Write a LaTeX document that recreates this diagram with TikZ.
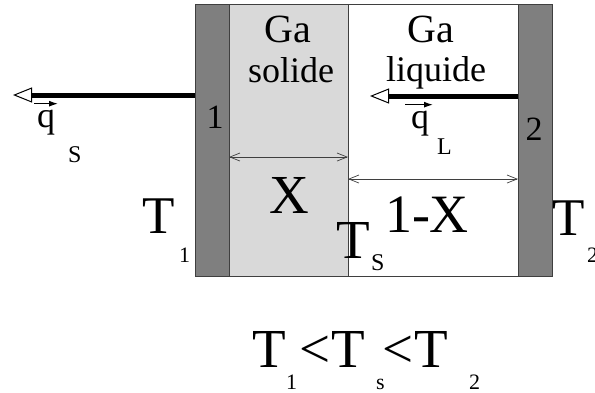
\documentclass[tikz,border=0pt]{standalone}
\usepackage{fontspec}
\setmainfont{Liberation Serif}
\usetikzlibrary{arrows.meta}
\newcommand{\fsz}[1]{\fontsize{#1}{#1}\selectfont}
\definecolor{wallgray}{HTML}{7F7F7F}
\definecolor{solidgray}{HTML}{D9D9D9}
\definecolor{edgegray}{HTML}{3F3F3F}
\begin{document}
\begin{tikzpicture}[x=1pt,y=-1pt,
  lbl/.style={inner sep=0pt, outer sep=0pt},
  region/.style={draw=edgegray, line width=0.8pt, inner sep=0pt, outer sep=0pt, anchor=north west, minimum height=272pt},
  flux/.style={line width=5pt, -{Triangle[open,length=19pt,width=15pt,line width=1pt]}},
  dim/.style={line width=0.7pt, draw=edgegray, {Straight Barb[length=10pt,width=8pt,line width=0.7pt]}-{Straight Barb[length=10pt,width=8pt,line width=0.7pt]}},
  vecarr/.style={line width=1.2pt, -{Latex[length=9pt,width=6pt]}}]
\useasboundingbox (0,0) rectangle (595,392);
\fill[white] (0,0) rectangle (595,392);
% regions
\node[region, fill=solidgray, minimum width=119pt] (solid) at (229,4) {};
\node[region, fill=white, minimum width=170pt] (liquid) at (348,4) {};
\node[region, fill=wallgray, minimum width=34pt] (wallL) at (195,4) {};
\node[region, fill=wallgray, minimum width=34pt] (wallR) at (518,4) {};
% labels in regions
\node[lbl, anchor=base, font=\fsz{40}] (gas) at (288,42) {Ga};
\node[lbl, anchor=base, font=\fsz{36}] (solide) at (291,82) {solide};
\node[lbl, anchor=base, font=\fsz{40}] (gal) at (431,42) {Ga};
\node[lbl, anchor=base, font=\fsz{36}] (liquide) at (436,81) {liquide};
\node[lbl, anchor=base, font=\fsz{34}] (one) at (215,128) {1};
\node[lbl, anchor=base, font=\fsz{34}] (two) at (534,140) {2};
% flux arrows
\coordinate (qsend) at (13,95);
\coordinate (qlend) at (370,96);
\draw[flux] (wallL.west |- qsend) -- (qsend);
\draw[flux] (wallR.west |- qlend) -- (qlend);
% flux labels
\node[lbl, anchor=base west, font=\fsz{36}] (qs) at (37,127) {q};
\node[lbl, anchor=base west, font=\fsz{24}] (qsS) at (68,162) {S};
\draw[vecarr] ([xshift=-3pt,yshift=6pt]qs.north west) -- ([xshift=3pt,yshift=6pt]qs.north east);
\node[lbl, anchor=base west, font=\fsz{36}] (ql) at (411,128) {q};
\node[lbl, anchor=base west, font=\fsz{24}] (qlL) at (437,154) {L};
\draw[vecarr] ([xshift=-6pt,yshift=6pt]ql.north west) -- ([xshift=4pt,yshift=6pt]ql.north east);
% dimensions
\coordinate (dx) at (0,157);
\coordinate (dl) at (0,179);
\draw[dim] (solid.west |- dx) -- (solid.east |- dx);
\draw[dim] (liquid.west |- dl) -- (liquid.east |- dl);
\node[lbl, anchor=base, font=\fsz{55}] (X) at (289,213) {X};
\node[lbl, anchor=base west, font=\fsz{54}] (oneX) at (385,232) {1-X};
% temperatures
\node[lbl, anchor=base west, font=\fsz{53}] (T1) at (142,233) {T};
\node[lbl, anchor=base west, font=\fsz{22}] (T1s) at (179,262) {1};
\node[lbl, anchor=base west, font=\fsz{55}] (TS) at (336,258) {T};
\node[lbl, anchor=base west, font=\fsz{24}] (TSs) at (371,270) {S};
\node[lbl, anchor=base west, font=\fsz{53}] (T2) at (552,235) {T};
\node[lbl, anchor=base west, font=\fsz{22}] (T2s) at (587,262) {2};
% bottom relation
\node[lbl, anchor=base west, font=\fsz{55}] (bT1) at (252,367) {T};
\node[lbl, anchor=base west, font=\fsz{22}] (bT1s) at (286,389) {1};
\node[lbl, anchor=base west, font=\fsz{55}] (blt1) at (299,367) {<};
\node[lbl, anchor=base west, font=\fsz{55}] (bTs) at (331,367) {T};
\node[lbl, anchor=base west, font=\fsz{22}] (bTss) at (376,389) {s};
\node[lbl, anchor=base west, font=\fsz{55}] (blt2) at (382,367) {<};
\node[lbl, anchor=base west, font=\fsz{55}] (bT2) at (414,367) {T};
\node[lbl, anchor=base west, font=\fsz{22}] (bT2s) at (469,389) {2};
\end{tikzpicture}
\end{document}
